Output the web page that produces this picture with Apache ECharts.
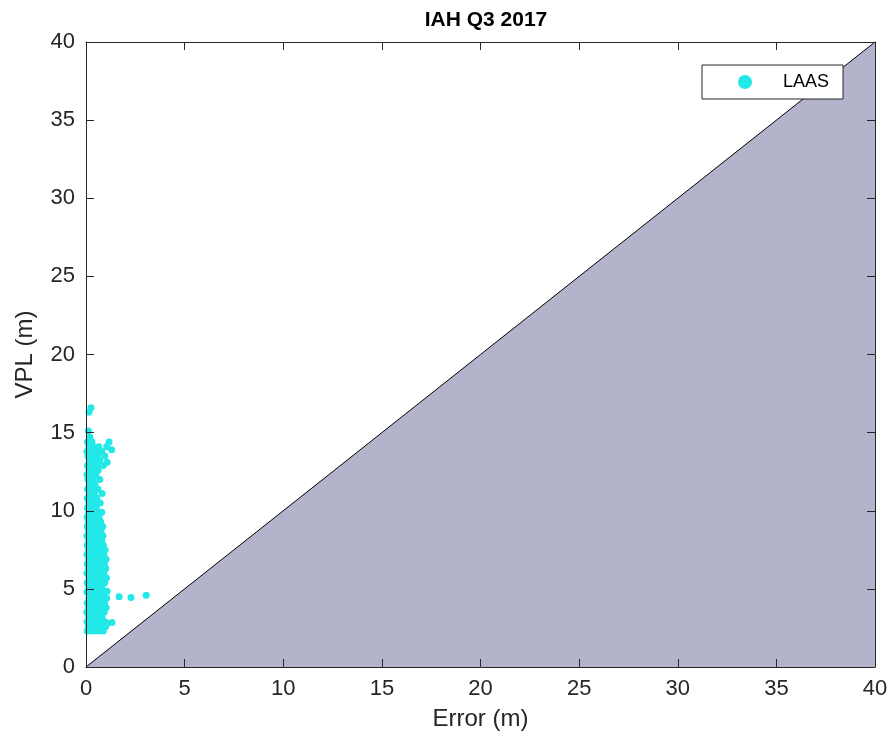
<!DOCTYPE html>
<html>
<head>
<meta charset="utf-8">
<script src="https://cdn.jsdelivr.net/npm/echarts@6/dist/echarts.min.js"></script>
<style>html,body{margin:0;padding:0;background:#fff}#c{width:896px;height:748px}</style>
</head>
<body>
<div id="c"></div>
<script>
const titleText = 'IAH Q3 2017';
const xName = 'Error (m)';
const yName = 'VPL (m)';
const seriesName = 'LAAS';
const axisMin = 0, axisMax = 40, axisStep = 5;
// Boundary line (VPL = Error), region below shaded
const boundary = [[0, 0], [40, 40]];
// LAAS samples [error, VPL]
const laasPoints = [
[0.06,2.3],[0.25,2.3],[0.46,2.3],[0.68,2.3],[0.88,2.3],
[0.12,2.6],[0.35,2.6],[0.57,2.6],[0.79,2.6],[1.0,2.6],
[0.05,2.9],[0.27,2.9],[0.49,2.9],[0.72,2.9],[0.95,2.9],[1.07,2.8],[1.32,2.85],
[0.14,3.2],[0.36,3.2],[0.58,3.2],[0.81,3.2],
[0.04,3.5],[0.26,3.5],[0.48,3.5],[0.7,3.5],[0.92,3.5],
[0.13,3.8],[0.35,3.8],[0.57,3.8],[0.8,3.8],[1.02,3.8],
[0.06,4.1],[0.28,4.1],[0.5,4.1],[0.73,4.1],[0.94,4.1],
[0.15,4.4],[0.37,4.4],[0.59,4.4],[0.82,4.4],[1.05,4.4],
[1.68,4.5],[2.28,4.45],[3.05,4.6],
[0.05,4.8],[0.27,4.8],[0.49,4.8],[0.71,4.8],[0.93,4.8],[1.07,4.85],
[0.14,5.1],[0.36,5.1],[0.58,5.1],[0.8,5.1],
[0.06,5.4],[0.28,5.4],[0.5,5.4],[0.72,5.4],[0.95,5.4],
[0.15,5.7],[0.37,5.7],[0.6,5.7],[0.83,5.7],[1.04,5.7],
[0.05,6.0],[0.27,6.0],[0.49,6.0],[0.7,6.0],[0.9,6.0],
[0.13,6.3],[0.35,6.3],[0.57,6.3],[0.8,6.3],[1.0,6.3],
[0.06,6.6],[0.28,6.6],[0.5,6.6],[0.72,6.6],[0.93,6.6],
[0.14,6.9],[0.36,6.9],[0.58,6.9],[0.8,6.9],[1.02,6.9],
[0.05,7.2],[0.27,7.2],[0.49,7.2],[0.71,7.2],[0.9,7.2],
[0.13,7.5],[0.35,7.5],[0.57,7.5],[0.79,7.5],[0.97,7.5],
[0.06,7.8],[0.28,7.8],[0.5,7.8],[0.72,7.8],[0.88,7.8],
[0.14,8.1],[0.36,8.1],[0.58,8.1],[0.8,8.1],
[0.05,8.4],[0.27,8.4],[0.49,8.4],[0.7,8.4],[0.86,8.4],
[0.13,8.7],[0.35,8.7],[0.56,8.7],[0.76,8.7],
[0.06,9.0],[0.28,9.0],[0.48,9.0],[0.68,9.0],[0.85,9.0],
[0.12,9.3],[0.33,9.3],[0.55,9.3],[0.74,9.3],
[0.05,9.6],[0.26,9.6],[0.46,9.6],[0.66,9.6],
[0.14,9.9],[0.35,9.9],[0.6,9.9],[0.8,9.9],
[0.07,10.2],[0.3,10.2],[0.52,10.2],
[0.15,10.5],[0.4,10.5],[0.72,10.5],
[0.06,10.8],[0.28,10.8],[0.55,10.8],
[0.18,11.1],[0.42,11.1],[0.82,11.1],
[0.08,11.4],[0.33,11.4],[0.6,11.4],
[0.2,11.7],[0.45,11.7],
[0.1,12.0],[0.36,12.0],[0.7,12.0],
[0.05,12.3],[0.25,12.3],[0.5,12.3],
[0.15,12.6],[0.38,12.6],[0.62,12.6],
[0.08,12.9],[0.3,12.9],[0.55,12.9],[0.88,12.9],
[0.2,13.2],[0.45,13.2],[0.7,13.2],[1.07,13.1],
[0.1,13.5],[0.35,13.5],[0.6,13.5],[0.95,13.5],
[0.05,13.8],[0.25,13.8],[0.5,13.8],[0.8,13.8],[1.3,13.9],
[0.15,14.1],[0.4,14.1],[0.65,14.1],[1.05,14.1],
[0.08,14.4],[0.3,14.4],[1.17,14.4],
[0.2,14.7],
[0.12,15.1],
[0.15,16.3],
[0.25,16.6]
];

const chart = echarts.init(document.getElementById('c'));
const font = 'Liberation Sans, Arial, Helvetica, sans-serif';
const axisColor = '#262626';
function valAxis(extra) {
  return Object.assign({
    type: 'value', min: axisMin, max: axisMax, interval: axisStep, z: 10,
    axisLine: {show: true, onZero: false, lineStyle: {color: axisColor, width: 1}},
    axisTick: {show: true, inside: true, length: 8, lineStyle: {color: axisColor}},
    splitLine: {show: false},
    axisLabel: {color: '#262626', fontSize: 22, fontFamily: font}
  }, extra);
}
chart.setOption({
  animation: false,
  backgroundColor: '#fff',
  title: {
    text: titleText, left: 481, top: 5, textAlign: 'center',
    textStyle: {fontSize: 21, fontWeight: 'bold', color: '#000', fontFamily: font}
  },
  legend: {
    data: [{name: seriesName, icon: 'circle'}],
    left: 702, top: 65, z: 20,
    itemWidth: 14, itemHeight: 14,
    backgroundColor: '#fff', borderColor: '#262626', borderWidth: 1, borderRadius: 0,
    padding: [8, 14, 8, 36],
    textStyle: {fontSize: 18, color: '#000', fontFamily: font, padding: [0, 0, 0, 26]}
  },
  grid: {left: 86, right: 21, top: 42, bottom: 81, containLabel: false},
  xAxis: [
    valAxis({name: xName, nameLocation: 'middle', nameGap: 40,
      nameTextStyle: {fontSize: 24, color: '#262626', fontFamily: font},
      axisLabel: {color: '#262626', fontSize: 22, fontFamily: font, margin: 11}}),
    valAxis({position: 'top', axisLabel: {show: false}})
  ],
  yAxis: [
    valAxis({name: yName, nameLocation: 'middle', nameGap: 49,
      nameTextStyle: {fontSize: 24, color: '#262626', fontFamily: font},
      axisLabel: {color: '#262626', fontSize: 22, fontFamily: font, margin: 11}}),
    valAxis({position: 'right', axisLabel: {show: false}})
  ],
  series: [
    {
      type: 'line', data: boundary, symbol: 'none', silent: true,
      lineStyle: {color: '#000', width: 1},
      areaStyle: {color: '#b3b3cc', opacity: 1},
      z: 1
    },
    {
      name: seriesName, type: 'scatter', data: laasPoints,
      symbol: 'circle', symbolSize: 7,
      itemStyle: {color: '#22e8e8', opacity: 1},
      z: 3
    }
  ]
});
</script>
</body>
</html>
